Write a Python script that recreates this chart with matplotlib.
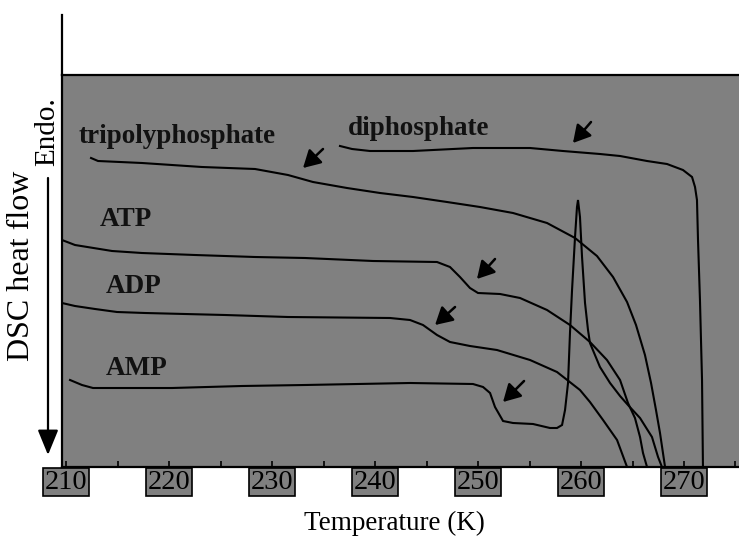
import matplotlib
matplotlib.use("Agg")
import matplotlib.pyplot as plt
from matplotlib.lines import Line2D
from matplotlib.patches import FancyArrowPatch

plt.rcParams['font.family'] = ['Liberation Serif', 'DejaVu Serif']

# ---------------- data (temperature in K, DSC heat flow in arb. units) ----------------
tripoly_T = [212.43, 213.11, 217.38, 223.20, 228.35, 231.55, 233.98, 237.28, 240.49, 243.69,
             246.99, 250.19, 253.40, 256.70, 259.42, 261.55, 263.11, 264.47, 265.34, 266.21,
             266.80, 267.28, 267.67, 268.16]
tripoly_q = [30.9, 30.6, 30.4, 30.0, 29.8, 29.2, 28.5, 27.9, 27.4, 27.0,
             26.5, 26.0, 25.4, 24.4, 22.9, 21.1, 19.0, 16.5, 14.2, 11.2,
             8.4, 5.7, 3.4, 0.0]

diphos_T = [236.60, 237.77, 239.51, 243.69, 249.51, 255.05, 258.25, 261.84, 263.79, 266.41,
            268.35, 269.90, 270.78, 271.07, 271.26, 271.36, 271.55, 271.75, 271.84]
diphos_q = [32.1, 31.8, 31.6, 31.6, 31.9, 31.9, 31.6, 31.3, 31.1, 30.6,
            30.3, 29.7, 29.0, 28.0, 26.7, 22.7, 16.7, 8.7, 0.0]

atp_T = [209.61, 210.87, 214.47, 217.38, 222.52, 228.35, 233.20, 239.81, 246.02, 247.28,
         248.25, 249.22, 250.00, 252.14, 254.08, 256.70, 258.93, 260.87, 262.52, 263.79,
         264.56, 265.24, 265.73, 266.02, 266.41]
atp_q = [22.7, 22.2, 21.6, 21.4, 21.2, 21.0, 20.9, 20.6, 20.5, 20.0,
         19.0, 17.9, 17.4, 17.3, 16.9, 15.7, 14.2, 12.5, 10.7, 8.7,
         6.4, 4.9, 3.0, 1.4, 0.0]

adp_T = [209.61, 210.87, 212.82, 214.95, 217.67, 225.44, 231.55, 241.46, 243.40, 244.66,
         246.02, 247.28, 249.22, 251.84, 255.05, 257.67, 259.90, 260.87, 262.14, 263.50,
         264.47]
adp_q = [16.4, 16.1, 15.8, 15.5, 15.4, 15.2, 15.0, 14.9, 14.7, 14.2,
         13.2, 12.5, 12.1, 11.7, 10.7, 9.5, 7.7, 6.5, 4.7, 2.7,
         0.0]

amp_T = [210.39, 211.55, 212.62, 220.29, 227.09, 233.20, 243.40, 249.51, 250.49, 251.17,
         251.65, 252.43, 253.40, 255.34, 256.99, 257.67, 258.16, 258.45, 258.74, 258.93,
         259.13, 259.42, 259.61, 259.71, 259.90, 260.10, 260.39, 260.68, 260.87, 261.84,
         262.82, 263.79, 264.56, 265.73, 266.89, 267.48, 267.86]
amp_q = [8.7, 8.2, 7.9, 7.9, 8.1, 8.2, 8.4, 8.3, 8.0, 7.4,
         6.0, 4.6, 4.4, 4.3, 3.9, 3.9, 4.2, 5.7, 8.4, 13.4,
         17.7, 23.0, 26.0, 26.7, 25.0, 21.0, 16.4, 13.7, 12.4, 10.0,
         8.4, 7.1, 6.2, 4.9, 3.0, 1.0, 0.0]

# transition arrows: (tail T, tail q, tip T, tip q)
arrow_tail_T = [234.95, 260.97, 251.65, 247.77, 254.47]
arrow_tail_q = [31.8, 34.5, 20.8, 16.0, 8.6]
arrow_tip_T = [233.01, 259.22, 249.90, 245.83, 252.43]
arrow_tip_q = [29.9, 32.4, 18.8, 14.2, 6.5]

labels = ['tripolyphosphate', 'diphosphate', 'ATP', 'ADP', 'AMP']
label_T = [211.26, 237.38, 213.30, 213.88, 213.88]
label_q = [32.4, 33.2, 24.1, 17.4, 9.2]

xticks = [210, 220, 230, 240, 250, 260, 270]
xlim = (209.61, 275.34)
ylim = (0.0, 39.2)

# ---------------- figure ----------------
W, H = 739, 537
fig = plt.figure(figsize=(W / 100, H / 100), dpi=100)
ax = fig.add_axes([62 / W, (H - 467) / H, (739 - 62) / W, (467 - 75) / H])
ax.set_facecolor('#808080')
ax.set_xlim(*xlim)
ax.set_ylim(*ylim)

for T, q in [(tripoly_T, tripoly_q), (diphos_T, diphos_q), (atp_T, atp_q),
             (adp_T, adp_q), (amp_T, amp_q)]:
    ax.plot(T, q, color='black', lw=1.5, solid_joinstyle='miter')

for t0, q0, t1, q1 in zip(arrow_tail_T, arrow_tail_q, arrow_tip_T, arrow_tip_q):
    ax.annotate('', xy=(t1, q1), xytext=(t0, q0),
                arrowprops=dict(arrowstyle='-|>,head_length=0.8,head_width=0.45',
                                mutation_scale=13, color='black', lw=1.8,
                                shrinkA=0, shrinkB=0))

for s, t, q in zip(labels, label_T, label_q):
    ax.text(t, q, s, fontsize=19.5, fontweight='bold', ha='left', va='baseline',
            color='#111111')

# spines
ax.spines['right'].set_visible(False)
for side in ['left', 'top', 'bottom']:
    ax.spines[side].set_linewidth(1.6)
    ax.spines[side].set_color('black')

ax.set_yticks([])
ax.set_xticks(xticks)
ax.set_xticks(list(range(215, 276, 10)), minor=True)
ax.tick_params(axis='x', which='both', direction='in', length=4, width=1.2,
               pad=2, labelsize=20.5)
ax.set_xticklabels([str(v) for v in xticks])
for lbl in ax.get_xticklabels():
    lbl.set_bbox(dict(facecolor='#808080', edgecolor='black', linewidth=1.2, pad=1.2))

ax.set_xlabel('Temperature (K)', fontsize=19.5)
ax.xaxis.set_label_coords((394 - 62) / 677, (467 - 511) / 392)
ax.xaxis.label.set_va('top')

# left axis line extending above the plotting area
fig.add_artist(Line2D([62 / W, 62 / W], [1 - 15 / H, 1 - 75 / H],
                      transform=fig.transFigure, color='black', lw=1.6))

# DSC heat flow arrow and labels
fig.add_artist(FancyArrowPatch((48 / W, 1 - 178 / H), (48 / W, 1 - 455 / H),
                               transform=fig.transFigure,
                               arrowstyle='-|>,head_length=1.1,head_width=0.45',
                               mutation_scale=14, color='black', lw=1.6,
                               shrinkA=0, shrinkB=0))
fig.text(22 / W, 1 - 266 / H, 'DSC heat flow', rotation=90, ha='center', va='center',
         fontsize=23)
fig.text(47 / W, 1 - 132 / H, 'Endo.', rotation=90, ha='center', va='center',
         fontsize=21)

fig.savefig('out.png', dpi=100)
